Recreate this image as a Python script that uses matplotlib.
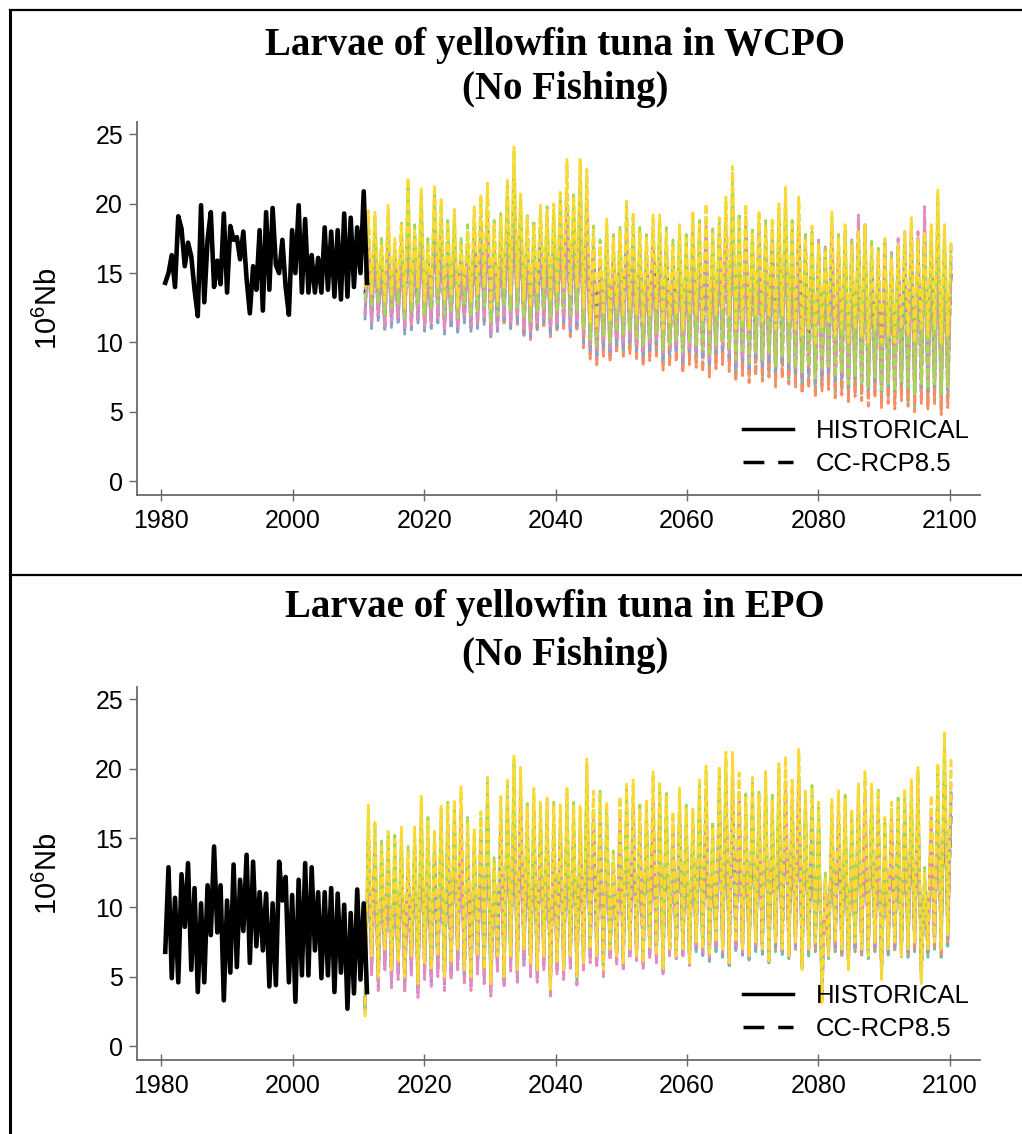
import numpy as np
import matplotlib
matplotlib.use("Agg")
import matplotlib.pyplot as plt
from matplotlib.lines import Line2D

# ---- data (10^6 Nb) ----
# historical runs: alternating trough/peak values, roughly two per year, 1980-2011
wcpo_hist = [14.3, 15.0, 16.3, 14.0, 19.1, 18.2, 15.5, 17.2, 16.2, 13.8, 11.9, 19.9, 12.9, 17.4, 19.4, 14.0,
             15.9, 14.2, 19.3, 13.6, 18.4, 17.4, 17.6, 16.0, 18.0, 14.6, 12.1, 15.5, 13.8, 18.1, 12.3, 19.4,
             13.8, 19.7, 15.6, 15.0, 17.4, 14.0, 12.0, 18.1, 15.0, 19.9, 13.6, 18.9, 13.6, 16.3, 13.6, 16.1,
             13.6, 18.3, 13.8, 18.0, 13.3, 18.1, 13.1, 19.3, 13.3, 19.0, 14.0, 18.3, 15.0, 20.9, 14.3]
epo_hist = [6.8, 12.9, 4.9, 10.7, 4.6, 12.4, 8.6, 13.2, 5.5, 11.4, 3.9, 10.3, 4.6, 11.6, 8.0, 14.4,
            8.2, 11.6, 3.3, 10.5, 5.3, 13.1, 5.7, 12.0, 8.3, 13.8, 6.0, 13.3, 7.2, 11.1, 6.9, 11.0,
            4.3, 10.3, 4.4, 13.3, 10.5, 12.2, 4.6, 10.9, 3.2, 12.0, 5.1, 13.2, 5.1, 12.9, 6.9, 11.1,
            4.9, 11.1, 5.1, 11.4, 3.9, 11.0, 5.3, 10.2, 2.7, 9.6, 3.8, 11.3, 4.8, 10.3, 3.9]

# CC-RCP8.5 runs, 2011-2099: yearly peak and trough per model
wcpo_yellow_peak = [19.5, 19.4, 17.0, 19.9, 17.5, 18.5, 21.9, 18.0, 21.2, 17.0,
                    21.4, 20.3, 18.5, 19.6, 17.0, 18.0, 19.8, 20.7, 21.5, 18.5,
                    19.0, 21.7, 24.1, 20.8, 19.0, 18.5, 19.9, 19.5, 20.0, 21.0,
                    23.2, 20.5, 23.3, 22.5, 18.1, 17.0, 18.9, 17.5, 18.0, 20.2,
                    19.4, 18.0, 17.5, 19.2, 19.2, 18.0, 17.0, 18.5, 17.5, 19.5,
                    18.5, 20.0, 18.0, 19.0, 20.5, 22.7, 19.0, 20.0, 18.0, 19.5,
                    18.5, 19.0, 20.0, 21.2, 18.5, 20.5, 17.5, 18.4, 17.0, 16.5,
                    19.4, 17.5, 18.5, 17.0, 18.0, 18.5, 17.0, 16.5, 17.5, 16.0,
                    17.0, 18.0, 19.0, 17.5, 18.0, 18.5, 21.0, 18.5, 17.5]
wcpo_yellow_trough = [14.0, 13.5, 14.0, 13.0, 13.5, 14.0, 12.5, 13.0, 14.0, 13.0,
                      13.5, 14.0, 13.0, 13.5, 12.5, 14.0, 13.0, 13.5, 14.0, 12.5,
                      13.0, 14.0, 13.5, 14.0, 13.0, 12.5, 13.5, 14.0, 13.0, 13.5,
                      14.0, 13.5, 14.0, 12.5, 11.5, 11.0, 12.0, 11.5, 12.5, 12.0,
                      12.5, 12.0, 11.5, 12.0, 12.5, 11.0, 11.5, 12.0, 11.0, 12.0,
                      12.0, 11.5, 11.0, 12.0, 12.5, 12.0, 11.0, 11.5, 11.0, 12.0,
                      11.5, 12.0, 11.0, 12.0, 11.5, 11.0, 10.5, 11.0, 10.0, 11.0,
                      11.5, 10.5, 11.0, 10.0, 11.0, 10.5, 10.0, 11.0, 10.0, 10.5,
                      10.0, 11.0, 10.5, 10.0, 11.0, 10.5, 11.0, 10.0, 10.5]
wcpo_green_peak = [19.0, 19.0, 17.5, 19.5, 17.0, 18.8, 21.5, 18.5, 20.8, 17.5,
                   21.0, 20.0, 18.8, 19.2, 17.5, 18.5, 19.5, 20.3, 21.0, 18.8,
                   19.3, 21.3, 23.8, 20.5, 19.3, 18.8, 19.5, 19.8, 19.6, 20.6,
                   22.8, 20.8, 23.0, 22.0, 18.5, 17.4, 18.5, 17.8, 18.3, 19.8,
                   19.0, 18.3, 17.8, 18.8, 18.9, 18.3, 17.4, 18.2, 17.8, 19.1,
                   18.8, 19.6, 18.3, 18.7, 20.1, 22.2, 19.3, 19.6, 18.3, 19.2,
                   18.8, 18.7, 19.6, 20.8, 18.8, 20.1, 17.8, 18.0, 17.3, 16.8,
                   19.0, 17.8, 18.1, 17.3, 17.6, 18.2, 17.3, 16.8, 17.2, 16.3,
                   16.7, 17.6, 18.6, 17.2, 17.6, 18.1, 20.6, 18.1, 17.2]
wcpo_green_trough = [13.0, 12.5, 12.8, 12.0, 12.5, 12.8, 11.8, 12.2, 12.8, 12.0,
                     12.5, 12.8, 12.0, 12.3, 11.8, 12.8, 12.0, 12.3, 12.6, 11.5,
                     12.0, 12.6, 12.3, 12.5, 11.8, 11.5, 12.3, 12.5, 11.8, 12.2,
                     12.5, 12.0, 12.3, 11.0, 10.2, 9.8, 10.5, 10.0, 10.8, 10.5,
                     10.8, 10.2, 9.8, 10.3, 10.6, 9.5, 9.8, 10.2, 9.3, 10.0,
                     9.8, 9.5, 9.0, 9.8, 10.0, 9.6, 8.8, 9.2, 8.6, 9.3,
                     8.8, 9.2, 8.3, 9.0, 8.6, 8.2, 7.8, 8.3, 7.4, 8.0,
                     8.3, 7.5, 7.8, 7.0, 7.6, 7.2, 6.8, 7.5, 6.6, 7.0,
                     6.5, 7.2, 6.8, 6.3, 7.0, 6.6, 7.0, 6.2, 6.8]
wcpo_pink_peak = [17.5, 17.8, 16.0, 18.0, 16.2, 17.2, 19.5, 16.8, 19.0, 16.0,
                  19.2, 18.5, 17.0, 18.0, 16.0, 16.8, 18.2, 18.8, 19.5, 17.0,
                  17.6, 19.5, 21.0, 19.0, 17.5, 17.0, 18.2, 18.0, 18.2, 19.0,
                  20.5, 19.0, 20.8, 20.0, 17.0, 16.0, 17.5, 16.5, 17.0, 18.5,
                  18.0, 17.0, 16.5, 17.8, 17.8, 17.0, 16.2, 17.3, 16.5, 18.0,
                  17.5, 18.5, 17.0, 17.8, 19.0, 20.0, 18.0, 18.8, 17.5, 18.5,
                  17.8, 18.0, 19.0, 19.5, 18.0, 19.0, 17.8, 17.5, 17.5, 17.0,
                  18.5, 17.0, 18.0, 17.5, 19.2, 18.5, 17.0, 16.5, 17.2, 16.5,
                  17.5, 18.0, 18.5, 18.0, 19.8, 18.0, 19.0, 17.5, 17.0]
wcpo_pink_trough = [12.0, 11.5, 12.0, 11.2, 11.5, 11.8, 11.0, 11.3, 11.8, 11.2,
                    11.5, 11.8, 11.0, 11.5, 11.0, 11.8, 11.2, 11.5, 11.8, 10.8,
                    11.2, 11.8, 11.5, 11.8, 11.0, 10.8, 11.5, 11.8, 11.0, 11.4,
                    11.8, 11.2, 11.6, 10.5, 9.8, 9.4, 10.0, 9.6, 10.2, 10.0,
                    10.3, 9.8, 9.4, 9.8, 10.2, 9.2, 9.5, 9.8, 9.0, 9.6,
                    9.5, 9.2, 8.8, 9.5, 9.8, 9.3, 8.6, 9.0, 8.5, 9.1,
                    8.7, 9.0, 8.3, 8.9, 8.5, 8.2, 7.8, 8.2, 7.5, 8.0,
                    8.2, 7.6, 7.8, 7.2, 7.7, 7.4, 7.0, 7.6, 6.9, 7.2,
                    6.8, 7.4, 7.0, 6.7, 7.2, 6.9, 7.2, 6.6, 7.0]
wcpo_blue_peak = [17.0, 17.2, 15.8, 17.6, 15.8, 16.8, 19.0, 16.5, 18.5, 15.8,
                  18.8, 18.0, 16.6, 17.5, 15.8, 16.5, 17.8, 18.4, 19.0, 16.6,
                  17.2, 19.0, 20.5, 18.5, 17.2, 16.6, 17.8, 17.5, 17.8, 18.5,
                  20.0, 18.5, 20.2, 19.5, 16.6, 15.8, 17.0, 16.2, 16.6, 18.0,
                  17.5, 16.6, 16.2, 17.3, 17.4, 16.6, 15.8, 16.8, 16.2, 17.5,
                  17.0, 18.0, 16.6, 17.3, 18.5, 19.5, 17.5, 18.2, 17.0, 18.0,
                  17.3, 17.5, 18.5, 19.0, 17.5, 18.5, 17.0, 17.0, 16.8, 16.5,
                  18.0, 16.6, 17.5, 17.0, 18.5, 18.0, 16.6, 16.0, 16.8, 16.0,
                  17.0, 17.5, 18.0, 17.5, 19.0, 17.5, 18.5, 17.0, 16.5]
wcpo_blue_trough = [11.6, 11.0, 11.5, 10.8, 11.0, 11.3, 10.6, 10.9, 11.4, 10.8,
                    11.0, 11.4, 10.6, 11.0, 10.6, 11.4, 10.8, 11.0, 11.3, 10.4,
                    10.8, 11.4, 11.0, 11.4, 10.6, 10.4, 11.0, 11.4, 10.6, 11.0,
                    11.4, 10.8, 11.2, 10.0, 9.4, 9.0, 9.6, 9.2, 9.8, 9.6,
                    9.9, 9.4, 9.0, 9.4, 9.8, 8.8, 9.1, 9.4, 8.6, 9.2,
                    9.1, 8.8, 8.4, 9.1, 9.4, 8.9, 8.2, 8.6, 8.1, 8.7,
                    8.3, 8.6, 7.9, 8.5, 8.1, 7.8, 7.4, 7.8, 7.1, 7.6,
                    7.8, 7.2, 7.4, 6.8, 7.3, 7.0, 6.6, 7.2, 6.5, 6.8,
                    6.4, 7.0, 6.6, 6.3, 6.8, 6.5, 6.8, 6.2, 6.6]
wcpo_orange_peak = [16.5, 16.8, 15.2, 17.0, 15.4, 16.3, 18.5, 16.0, 18.0, 15.4,
                    18.2, 17.5, 16.2, 17.0, 15.4, 16.0, 17.2, 17.8, 18.4, 16.2,
                    16.7, 18.4, 19.8, 18.0, 16.7, 16.2, 17.2, 17.0, 17.2, 18.0,
                    19.4, 18.0, 19.6, 19.0, 16.0, 15.2, 16.5, 15.6, 16.0, 17.4,
                    16.9, 16.0, 15.6, 16.7, 16.8, 16.0, 15.2, 16.2, 15.6, 16.9,
                    16.4, 17.4, 16.0, 16.7, 17.8, 19.0, 16.8, 17.5, 16.4, 17.3,
                    16.6, 16.9, 17.8, 18.3, 16.8, 17.8, 16.2, 16.4, 16.0, 15.6,
                    17.2, 15.8, 16.6, 16.0, 17.4, 17.0, 15.6, 15.2, 15.8, 15.0,
                    15.8, 16.4, 17.0, 16.4, 17.6, 16.4, 17.4, 16.0, 15.4]
wcpo_orange_trough = [12.0, 11.4, 11.8, 11.0, 11.4, 11.6, 10.9, 11.2, 11.6, 11.0,
                      11.3, 11.6, 10.8, 11.2, 10.8, 11.6, 11.0, 11.2, 11.5, 10.5,
                      10.8, 11.4, 11.0, 11.3, 10.5, 10.2, 10.9, 11.2, 10.4, 10.8,
                      11.0, 10.4, 10.8, 9.6, 8.8, 8.4, 9.0, 8.6, 9.2, 9.0,
                      9.2, 8.7, 8.3, 8.7, 9.0, 8.0, 8.3, 8.6, 7.8, 8.4,
                      8.2, 7.9, 7.5, 8.1, 8.4, 7.9, 7.2, 7.6, 7.1, 7.6,
                      7.2, 7.5, 6.8, 7.4, 7.0, 6.7, 6.3, 6.7, 6.0, 6.5,
                      6.6, 6.0, 6.2, 5.6, 6.1, 5.8, 5.4, 6.0, 5.3, 5.6,
                      5.2, 5.8, 5.4, 5.0, 5.6, 5.2, 5.5, 4.8, 5.3]
wcpo_teal_peak = [16.8, 17.0, 15.5, 17.3, 15.6, 16.5, 18.8, 16.2, 18.3, 15.6,
                  18.5, 17.8, 16.4, 17.2, 15.6, 16.2, 17.5, 18.1, 18.7, 16.4,
                  17.0, 18.7, 20.1, 18.2, 17.0, 16.4, 17.5, 17.2, 17.5, 18.2,
                  19.7, 18.2, 19.9, 19.2, 16.3, 15.5, 16.8, 15.9, 16.3, 17.7,
                  17.2, 16.3, 15.9, 17.0, 17.1, 16.3, 15.5, 16.5, 15.9, 17.2,
                  16.7, 17.7, 16.3, 17.0, 18.1, 19.3, 17.1, 17.8, 16.7, 17.6,
                  16.9, 17.2, 18.1, 18.6, 17.1, 18.1, 16.5, 16.7, 16.3, 15.9,
                  17.5, 16.1, 16.9, 16.3, 17.7, 17.3, 15.9, 15.5, 16.1, 15.3,
                  16.1, 16.7, 17.3, 16.7, 17.9, 16.7, 17.7, 16.3, 15.7]
wcpo_teal_trough = [12.2, 11.6, 12.0, 11.2, 11.6, 11.8, 11.1, 11.4, 11.8, 11.2,
                    11.5, 11.8, 11.0, 11.4, 11.0, 11.8, 11.2, 11.4, 11.7, 10.7,
                    11.0, 11.6, 11.2, 11.5, 10.7, 10.4, 11.1, 11.4, 10.6, 11.0,
                    11.2, 10.6, 11.0, 9.9, 9.1, 8.7, 9.3, 8.9, 9.5, 9.3,
                    9.5, 9.0, 8.6, 9.0, 9.3, 8.4, 8.7, 9.0, 8.2, 8.8,
                    8.6, 8.3, 7.9, 8.5, 8.8, 8.3, 7.6, 8.0, 7.5, 8.0,
                    7.6, 7.9, 7.2, 7.8, 7.4, 7.1, 6.7, 7.1, 6.4, 6.9,
                    7.0, 6.4, 6.6, 6.0, 6.5, 6.2, 5.8, 6.4, 5.7, 6.0,
                    5.6, 6.2, 5.8, 5.4, 6.0, 5.6, 5.9, 5.2, 5.7]
wcpo_black_peak = [17.5, 17.0, 16.0, 17.5, 16.0, 17.0, 18.5, 16.5, 18.0, 16.0,
                   18.0, 17.5, 16.5, 17.0, 16.0, 16.5, 17.5, 18.0, 18.5, 16.5,
                   17.0, 18.5, 19.5, 18.0, 17.0, 16.5, 17.5, 17.0, 17.5, 18.0,
                   19.0, 18.0, 19.0, 18.5, 16.5, 15.5, 16.5, 16.0, 16.5, 17.5,
                   17.0, 16.5, 16.0, 17.0, 17.0, 16.5, 15.5, 16.5, 16.0, 17.0,
                   16.5, 17.5, 16.0, 17.0, 17.5, 18.5, 17.0, 17.5, 16.5, 17.0,
                   16.5, 17.0, 17.5, 18.0, 16.5, 17.5, 16.0, 16.5, 16.0, 15.5,
                   17.0, 15.5, 16.5, 15.5, 16.5, 16.5, 15.5, 15.0, 15.5, 15.0,
                   15.5, 16.0, 16.5, 16.0, 16.5, 16.0, 17.0, 15.5, 15.0]
wcpo_black_trough = [13.5, 13.0, 13.5, 12.8, 13.0, 13.4, 12.5, 12.8, 13.4, 12.8,
                     13.0, 13.4, 12.6, 13.0, 12.5, 13.4, 12.8, 13.0, 13.4, 12.3,
                     12.7, 13.3, 13.0, 13.3, 12.5, 12.2, 12.9, 13.3, 12.5, 12.9,
                     13.2, 12.7, 13.1, 12.0, 11.2, 10.8, 11.4, 11.0, 11.8, 11.5,
                     11.8, 11.4, 11.0, 11.4, 11.8, 10.8, 11.0, 11.4, 10.6, 11.2,
                     11.2, 10.9, 10.5, 11.2, 11.5, 11.0, 10.4, 10.8, 10.2, 10.8,
                     10.5, 10.8, 10.1, 10.8, 10.4, 10.0, 9.6, 10.0, 9.4, 9.8,
                     10.0, 9.5, 9.8, 9.2, 9.7, 9.4, 9.0, 9.6, 8.9, 9.2,
                     9.0, 9.6, 9.2, 8.8, 9.4, 9.0, 9.4, 8.7, 9.2]

epo_yellow_peak = [17.4, 16.3, 14.4, 15.5, 14.9, 15.8, 14.0, 15.8, 18.1, 16.2,
                   15.6, 17.4, 17.4, 17.8, 18.7, 16.2, 15.7, 16.9, 19.4, 13.2,
                   18.0, 19.2, 21.0, 20.1, 17.2, 18.6, 17.6, 17.9, 17.3, 17.4,
                   18.6, 17.3, 17.3, 20.7, 18.4, 18.1, 17.6, 13.8, 18.0, 18.9,
                   19.2, 17.1, 17.8, 19.8, 19.1, 18.1, 16.9, 18.6, 17.1, 17.2,
                   19.2, 20.2, 15.8, 20.2, 21.2, 21.2, 19.7, 17.9, 19.4, 18.1,
                   19.8, 17.8, 20.4, 20.9, 19.2, 21.4, 18.5, 18.5, 17.6, 12.1,
                   17.8, 18.5, 17.8, 17.1, 19.0, 19.8, 18.9, 18.3, 16.5, 17.6,
                   17.6, 18.6, 19.2, 20.1, 12.5, 18.1, 20.4, 22.6, 20.7]
epo_yellow_trough = [2.1, 6.5, 5.0, 7.0, 5.5, 6.0, 5.0, 6.5, 4.5, 6.0,
                     5.5, 6.5, 5.0, 6.0, 7.0, 5.5, 5.0, 6.5, 5.5, 4.5,
                     6.5, 5.0, 6.5, 5.5, 7.0, 6.0, 5.5, 6.5, 4.0, 6.0,
                     5.5, 6.5, 5.0, 6.0, 7.0, 6.5, 5.5, 7.0, 6.5, 6.0,
                     7.0, 6.5, 6.0, 7.0, 6.5, 5.5, 7.0, 6.5, 7.0, 6.0,
                     7.5, 7.0, 6.5, 7.5, 7.0, 6.0, 7.5, 7.0, 6.5, 7.5,
                     7.0, 6.0, 7.5, 7.0, 6.5, 7.5, 5.5, 7.0, 7.5, 3.0,
                     6.5, 7.5, 7.0, 5.5, 7.5, 7.0, 6.5, 7.5, 4.8, 7.0,
                     7.5, 6.5, 7.0, 7.5, 4.5, 7.0, 7.5, 7.0, 8.0]
epo_green_peak = [17.0, 16.0, 14.8, 15.2, 15.2, 15.4, 14.4, 15.4, 17.6, 16.5,
                  15.3, 17.0, 17.6, 17.4, 18.3, 16.5, 15.4, 16.6, 19.0, 13.6,
                  17.6, 18.8, 20.6, 19.7, 17.5, 18.2, 17.3, 17.6, 17.6, 17.0,
                  18.2, 17.6, 17.0, 20.3, 18.0, 18.4, 17.2, 14.2, 17.6, 18.5,
                  18.8, 17.4, 17.4, 19.4, 18.7, 18.4, 16.5, 18.2, 17.4, 16.8,
                  18.8, 19.8, 16.2, 19.8, 20.8, 20.8, 19.3, 18.2, 19.0, 18.4,
                  19.4, 18.1, 20.0, 20.5, 18.8, 21.0, 18.1, 18.8, 17.2, 12.5,
                  17.4, 18.1, 18.1, 16.7, 18.6, 19.4, 18.5, 18.6, 16.1, 17.2,
                  17.9, 18.2, 18.8, 19.7, 12.9, 17.7, 20.0, 22.2, 20.3]
epo_green_trough = [2.3, 6.8, 5.3, 7.2, 5.8, 6.3, 5.3, 6.8, 4.8, 6.3,
                    5.8, 6.8, 5.3, 6.3, 7.2, 5.8, 5.3, 6.8, 5.8, 4.8,
                    6.8, 5.3, 6.8, 5.8, 7.2, 6.3, 5.8, 6.8, 4.3, 6.3,
                    5.8, 6.8, 5.3, 6.3, 7.2, 6.8, 5.8, 7.2, 6.8, 6.3,
                    7.2, 6.8, 6.3, 7.2, 6.8, 5.8, 7.2, 6.8, 7.2, 6.3,
                    7.6, 7.2, 6.8, 7.6, 7.2, 6.3, 7.6, 7.2, 6.8, 7.6,
                    7.2, 6.3, 7.6, 7.2, 6.8, 7.6, 5.8, 7.2, 7.6, 3.2,
                    6.8, 7.6, 7.2, 5.8, 7.6, 7.2, 6.8, 7.6, 5.0, 7.2,
                    7.6, 6.8, 7.2, 7.6, 4.8, 7.2, 7.6, 7.2, 8.2]
epo_pink_peak = [15.5, 14.8, 13.5, 14.2, 13.8, 14.5, 13.2, 14.5, 16.5, 15.0,
                 14.4, 15.8, 16.0, 16.2, 17.0, 15.0, 14.5, 15.5, 17.8, 12.8,
                 16.5, 17.5, 19.0, 18.2, 16.0, 17.0, 16.2, 16.5, 16.0, 16.0,
                 17.0, 16.0, 16.0, 18.8, 17.0, 16.8, 16.2, 13.2, 16.5, 17.2,
                 17.5, 16.0, 16.5, 18.0, 17.5, 16.8, 15.8, 17.0, 16.0, 16.0,
                 17.5, 18.5, 15.0, 18.5, 19.2, 19.0, 18.0, 16.8, 17.8, 17.0,
                 18.0, 16.8, 18.5, 19.0, 17.8, 19.5, 17.2, 17.2, 16.5, 12.0,
                 16.5, 17.0, 16.5, 16.0, 17.5, 18.2, 17.5, 17.0, 15.5, 16.5,
                 16.5, 17.2, 17.5, 18.5, 12.0, 16.8, 18.5, 20.5, 19.0]
epo_pink_trough = [2.5, 5.0, 4.0, 5.5, 4.2, 4.8, 3.8, 5.0, 3.5, 4.8,
                   4.3, 5.0, 4.0, 4.8, 5.5, 4.4, 4.0, 5.2, 4.5, 3.6,
                   5.3, 4.2, 5.4, 4.6, 5.8, 5.0, 4.6, 5.5, 3.6, 5.2,
                   4.8, 5.6, 4.4, 5.3, 6.0, 5.8, 5.0, 6.2, 5.8, 5.4,
                   6.3, 6.0, 5.6, 6.4, 6.0, 5.2, 6.5, 6.2, 6.5, 5.8,
                   7.2, 6.8, 6.4, 7.2, 6.8, 6.0, 7.2, 6.8, 6.5, 7.3,
                   7.0, 6.2, 7.4, 7.0, 6.6, 7.4, 5.8, 7.0, 7.4, 3.5,
                   6.8, 7.4, 7.0, 5.8, 7.4, 7.0, 6.8, 7.4, 5.2, 7.0,
                   7.4, 6.8, 7.0, 7.4, 5.0, 7.0, 7.4, 7.0, 8.0]
epo_blue_peak = [15.0, 14.4, 13.2, 13.8, 13.5, 14.1, 12.9, 14.1, 16.0, 14.6,
                 14.0, 15.4, 15.6, 15.8, 16.5, 14.6, 14.1, 15.1, 17.3, 12.5,
                 16.0, 17.0, 18.5, 17.7, 15.6, 16.5, 15.8, 16.0, 15.6, 15.6,
                 16.5, 15.6, 15.6, 18.3, 16.6, 16.4, 15.8, 12.9, 16.0, 16.8,
                 17.0, 15.6, 16.0, 17.5, 17.0, 16.4, 15.4, 16.5, 15.6, 15.6,
                 17.0, 18.0, 14.6, 18.0, 18.7, 18.5, 17.5, 16.4, 17.3, 16.6,
                 17.5, 16.4, 18.0, 18.5, 17.3, 19.0, 16.8, 16.8, 16.0, 11.7,
                 16.0, 16.6, 16.0, 15.6, 17.0, 17.7, 17.0, 16.6, 15.1, 16.0,
                 16.0, 16.8, 17.0, 18.0, 11.7, 16.4, 18.0, 20.0, 18.5]
epo_blue_trough = [2.6, 5.3, 4.3, 5.8, 4.5, 5.1, 4.1, 5.3, 3.8, 5.1,
                   4.6, 5.3, 4.3, 5.1, 5.8, 4.7, 4.3, 5.5, 4.8, 3.9,
                   5.6, 4.5, 5.7, 4.9, 6.1, 5.3, 4.9, 5.8, 3.9, 5.5,
                   5.1, 5.9, 4.7, 5.6, 6.3, 6.1, 5.3, 6.5, 6.1, 5.7,
                   6.5, 6.2, 5.8, 6.6, 6.2, 5.4, 6.7, 6.4, 6.7, 6.0,
                   7.0, 6.6, 6.2, 7.0, 6.6, 5.8, 7.0, 6.6, 6.3, 7.1,
                   6.8, 6.0, 7.2, 6.8, 6.4, 7.2, 5.6, 6.8, 7.2, 3.3,
                   6.6, 7.2, 6.8, 5.6, 7.2, 6.8, 6.6, 7.2, 5.0, 6.8,
                   7.2, 6.6, 6.8, 7.2, 4.8, 6.8, 7.2, 6.8, 7.8]
epo_orange_peak = [14.5, 14.0, 12.8, 13.5, 13.2, 13.8, 12.6, 13.8, 15.6, 14.3,
                   13.7, 15.0, 15.2, 15.4, 16.0, 14.3, 13.8, 14.8, 16.8, 12.2,
                   15.6, 16.6, 18.0, 17.2, 15.2, 16.0, 15.4, 15.6, 15.2, 15.2,
                   16.0, 15.2, 15.2, 17.8, 16.2, 16.0, 15.4, 12.6, 15.6, 16.4,
                   16.6, 15.2, 15.6, 17.0, 16.6, 16.0, 15.0, 16.0, 15.2, 15.2,
                   16.6, 17.5, 14.3, 17.5, 18.2, 18.0, 17.0, 16.0, 16.8, 16.2,
                   17.0, 16.0, 17.5, 18.0, 16.8, 18.5, 16.4, 16.4, 15.6, 11.4,
                   15.6, 16.2, 15.6, 15.2, 16.6, 17.2, 16.6, 16.2, 14.8, 15.6,
                   15.6, 16.4, 16.6, 17.5, 11.4, 16.0, 17.5, 19.5, 18.0]
epo_orange_trough = [2.8, 5.8, 4.8, 6.2, 5.0, 5.6, 4.6, 5.8, 4.3, 5.6,
                     5.1, 5.8, 4.8, 5.6, 6.2, 5.2, 4.8, 6.0, 5.3, 4.4,
                     6.0, 5.0, 6.1, 5.4, 6.4, 5.8, 5.4, 6.2, 4.4, 6.0,
                     5.6, 6.3, 5.2, 6.0, 6.6, 6.4, 5.8, 6.7, 6.4, 6.0,
                     6.7, 6.4, 6.0, 6.8, 6.4, 5.7, 6.8, 6.5, 6.8, 6.2,
                     7.0, 6.6, 6.3, 7.0, 6.6, 6.0, 7.0, 6.6, 6.4, 7.0,
                     6.8, 6.2, 7.0, 6.8, 6.5, 7.0, 6.0, 6.7, 7.0, 4.0,
                     6.5, 7.0, 6.6, 6.0, 7.0, 6.6, 6.5, 7.0, 5.5, 6.6,
                     7.0, 6.5, 6.6, 7.0, 5.5, 6.6, 7.0, 6.6, 7.4]
epo_teal_peak = [14.8, 14.2, 13.0, 13.6, 13.4, 14.0, 12.8, 14.0, 15.8, 14.5,
                 13.9, 15.2, 15.4, 15.6, 16.3, 14.5, 14.0, 15.0, 17.0, 12.4,
                 15.8, 16.8, 18.2, 17.4, 15.4, 16.2, 15.6, 15.8, 15.4, 15.4,
                 16.2, 15.4, 15.4, 18.0, 16.4, 16.2, 15.6, 12.8, 15.8, 16.6,
                 16.8, 15.4, 15.8, 17.2, 16.8, 16.2, 15.2, 16.2, 15.4, 15.4,
                 16.8, 17.8, 14.5, 17.8, 18.4, 18.2, 17.2, 16.2, 17.0, 16.4,
                 17.2, 16.2, 17.8, 18.2, 17.0, 18.8, 16.6, 16.6, 15.8, 11.6,
                 15.8, 16.4, 15.8, 15.4, 16.8, 17.4, 16.8, 16.4, 15.0, 15.8,
                 15.8, 16.6, 16.8, 17.8, 11.6, 16.2, 17.8, 19.8, 18.2]
epo_teal_trough = [2.7, 5.6, 4.6, 6.0, 4.8, 5.4, 4.4, 5.6, 4.1, 5.4,
                   4.9, 5.6, 4.6, 5.4, 6.0, 5.0, 4.6, 5.8, 5.1, 4.2,
                   5.8, 4.8, 5.9, 5.2, 6.2, 5.6, 5.2, 6.0, 4.2, 5.8,
                   5.4, 6.1, 5.0, 5.8, 6.4, 6.2, 5.6, 6.5, 6.2, 5.8,
                   6.5, 6.2, 5.8, 6.6, 6.2, 5.5, 6.6, 6.3, 6.6, 6.0,
                   6.8, 6.4, 6.1, 6.8, 6.4, 5.8, 6.8, 6.4, 6.2, 6.8,
                   6.6, 6.0, 6.8, 6.6, 6.3, 6.8, 5.8, 6.5, 6.8, 3.8,
                   6.3, 6.8, 6.4, 5.8, 6.8, 6.4, 6.3, 6.8, 5.3, 6.4,
                   6.8, 6.3, 6.4, 6.8, 5.3, 6.4, 6.8, 6.4, 7.2]
epo_black_peak = [14.0, 13.5, 12.5, 13.0, 12.8, 13.2, 12.2, 13.2, 14.8, 13.6,
                  13.0, 14.2, 14.4, 14.6, 15.2, 13.6, 13.2, 14.0, 15.8, 11.8,
                  14.8, 15.6, 17.0, 16.2, 14.4, 15.2, 14.6, 14.8, 14.4, 14.4,
                  15.2, 14.4, 14.4, 16.6, 15.2, 15.0, 14.6, 12.0, 14.8, 15.4,
                  15.6, 14.4, 14.8, 16.0, 15.6, 15.0, 14.2, 15.0, 14.4, 14.4,
                  15.6, 16.4, 13.6, 16.4, 17.0, 16.8, 15.8, 15.0, 15.6, 15.2,
                  15.8, 15.0, 16.4, 16.8, 15.6, 17.2, 15.4, 15.4, 14.8, 11.0,
                  14.8, 15.2, 14.8, 14.4, 15.6, 16.0, 15.6, 15.2, 14.0, 14.8,
                  14.8, 15.4, 15.6, 16.4, 11.0, 15.0, 16.4, 18.0, 16.8]
epo_black_trough = [3.0, 7.0, 6.0, 7.5, 6.2, 7.0, 6.0, 7.2, 5.5, 7.0,
                    6.5, 7.2, 6.0, 7.0, 7.8, 6.5, 6.0, 7.4, 6.6, 5.6,
                    7.4, 6.2, 7.5, 6.8, 8.0, 7.2, 6.8, 7.8, 5.6, 7.4,
                    7.0, 7.8, 6.6, 7.4, 8.0, 7.8, 7.2, 8.2, 7.8, 7.4,
                    8.2, 7.8, 7.4, 8.4, 8.0, 7.2, 8.4, 8.0, 8.4, 7.8,
                    8.6, 8.2, 7.8, 8.6, 8.2, 7.6, 8.6, 8.2, 8.0, 8.6,
                    8.4, 7.8, 8.6, 8.4, 8.0, 8.6, 7.6, 8.2, 8.6, 5.0,
                    8.2, 8.6, 8.2, 7.6, 8.6, 8.2, 8.0, 8.6, 6.8, 8.2,
                    8.6, 8.0, 8.2, 8.6, 6.5, 8.2, 8.6, 8.2, 9.0]

model_colors = ["black", "#66c2a5", "#fc8d62", "#8da0cb", "#e78ac3", "#a6d854", "#ffd92f"]
model_names = ["black", "teal", "orange", "blue", "pink", "green", "yellow"]

panels = [
    ("Larvae of yellowfin tuna in WCPO\n(No Fishing)", wcpo_hist, "wcpo"),
    ("Larvae of yellowfin tuna in EPO\n(No Fishing)", epo_hist, "epo"),
]

plt.rcParams["font.family"] = ["Liberation Sans", "DejaVu Sans"]
plt.rcParams["mathtext.fontset"] = "custom"
plt.rcParams["mathtext.rm"] = "Liberation Sans"
plt.rcParams["mathtext.it"] = "Liberation Sans"
plt.rcParams["mathtext.default"] = "regular"

fig = plt.figure(figsize=(10.22, 11.34), dpi=100)
W, H = 1022, 1134

# panel frames (top, middle, left rules)
for y in (10, 575):
    fig.add_artist(Line2D([10 / W, 1.0], [1 - y / H, 1 - y / H], color="black", lw=1.6))
fig.add_artist(Line2D([10 / W, 10 / W], [0, 1 - 10 / H], color="black", lw=2.2))

ax_boxes = [(137, 122, 980, 495), (137, 687, 980, 1060)]
title_y = [(45, 90), (608, 655)]
legend_top = [419, 984]

for k, (title, hist, key) in enumerate(panels):
    x0, y0, x1, y1 = ax_boxes[k]
    ax = fig.add_axes([x0 / W, 1 - y1 / H, (x1 - x0) / W, (y1 - y0) / H])

    hist_t = np.linspace(1980.6, 2011.3, len(hist))

    for name, col in zip(model_names, model_colors):
        peaks = np.array(globals()[f"{key}_{name}_peak"])
        troughs = np.array(globals()[f"{key}_{name}_trough"])
        vals = np.column_stack([troughs, peaks]).ravel()
        t = np.linspace(2011.0, 2100.2, len(vals))
        ax.plot(t, vals, color=col, lw=2.0, linestyle=(0, (3, 1.2)), zorder=2)

    ax.plot(hist_t, hist, color="black", lw=3.3, zorder=3, solid_joinstyle="round")

    ax.set_xlim(1976.3, 2104.6)
    ax.set_ylim(-1.0, 25.9)
    ax.set_xticks([1980, 2000, 2020, 2040, 2060, 2080, 2100])
    ax.set_yticks([0, 5, 10, 15, 20, 25])
    for s in ("top", "right"):
        ax.spines[s].set_visible(False)
    for s in ("left", "bottom"):
        ax.spines[s].set_color("#6a6a6a")
        ax.spines[s].set_linewidth(1.3)
    ax.tick_params(axis="both", labelsize=18, colors="#6a6a6a", labelcolor="black", width=1.0)
    ax.tick_params(axis="y", direction="out", length=6, pad=4)
    ax.tick_params(axis="x", direction="inout", length=8, pad=6)
    ax.set_ylabel("10$^6$Nb", fontsize=21)
    ax.yaxis.set_label_coords(-0.088, 0.5)

    handles = [Line2D([], [], color="black", lw=2.5),
               Line2D([], [], color="black", lw=2.5, linestyle=(0, (6, 4)))]
    fig.legend(handles, ["HISTORICAL", "CC-RCP8.5"], loc="upper left",
               bbox_to_anchor=(743 / W, 1 - legend_top[k] / H), frameon=False,
               fontsize=18.5, handlelength=1.95, handletextpad=0.9,
               labelspacing=0.35, borderpad=0, borderaxespad=0)

    l1, l2 = title.split("\n")
    fig.text(0.543, 1 - title_y[k][0] / H, l1, ha="center", va="center",
             fontsize=28, fontweight="bold", family="Liberation Serif")
    fig.text(0.553, 1 - title_y[k][1] / H, l2, ha="center", va="center",
             fontsize=28, fontweight="bold", family="Liberation Serif")

fig.savefig("out.png", dpi=100)
